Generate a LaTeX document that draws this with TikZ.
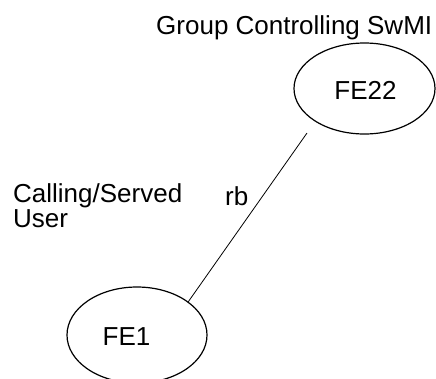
\documentclass[tikz,border=0pt]{standalone}
\usepackage{fontspec}
\setmainfont{Liberation Sans}
\usetikzlibrary{shapes.geometric}
\begin{document}
\begin{tikzpicture}[x=1pt,y=-1pt,
                fe/.style={draw, ellipse, line width=1.2pt, inner sep=0pt},
                lbl/.style={inner sep=0pt, font=\fontsize{26}{26}\selectfont}]
                \useasboundingbox (0,0) rectangle (436,378);

                \node [fe, minimum width=141pt, minimum height=91pt] (fe22) at (364.5,88.5) {};
                \node [fe, minimum width=140pt, minimum height=96pt] (fe1) at (137,335) {};
                \coordinate (rbend) at (307,133);

                \draw[line width=0.8pt] (fe1.33) -- (rbend);

                \node [lbl, anchor=base] (fe22name) at (365.5,99) {FE22};
                \node [lbl, anchor=base] (fe1name) at (126.5,345) {FE1};
                \node [lbl, anchor=base west] (swmi) at (156,34) {Group Controlling SwMI};
                \node [lbl, anchor=base west] (calling) at (13,202) {Calling/Served};
                \node [lbl, anchor=base west] (user) at (13,227) {User};
                \node [lbl, anchor=base west] (rb) at (225,205) {rb};

                \end{tikzpicture}
\end{document}
